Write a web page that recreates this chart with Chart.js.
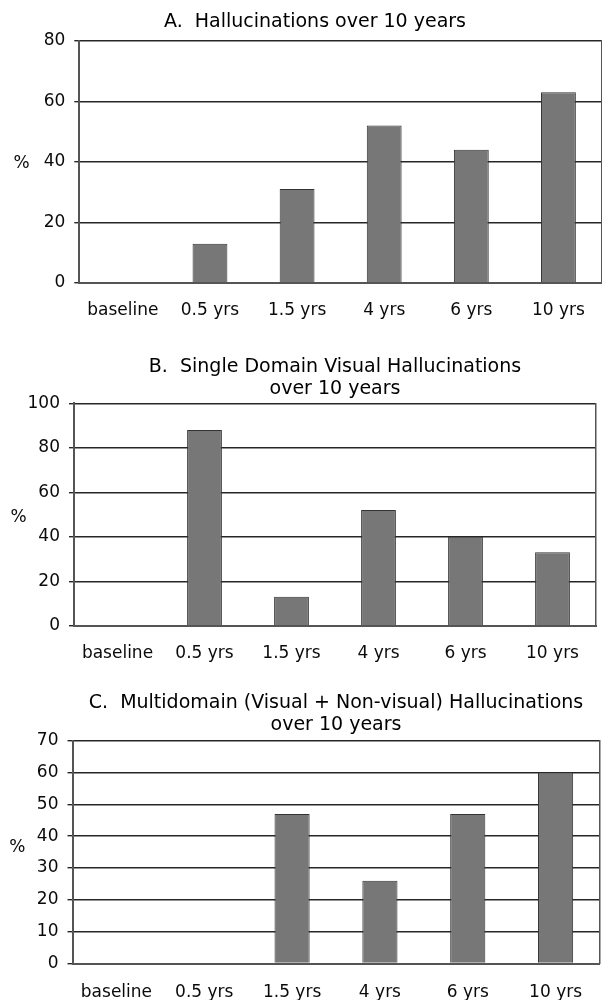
<!DOCTYPE html>
<html>
<head>
<meta charset="utf-8">
<script src="https://cdn.jsdelivr.net/npm/chart.js@4/dist/chart.umd.min.js"></script>
<style>
  html, body { margin: 0; padding: 0; background: #fff; }
  body { width: 602px; height: 1000px; overflow: hidden; position: relative; }
  .panel { position: absolute; left: 0; }
  canvas { display: block; }
</style>
</head>
<body>
<div class="panel" style="top:0px"><canvas id="chartA" width="604" height="330"></canvas></div>
<div class="panel" style="top:330px"><canvas id="chartB" width="602" height="340"></canvas></div>
<div class="panel" style="top:670px"><canvas id="chartC" width="602" height="330"></canvas></div>

<script>
// Follow-up visits
const categories = ['baseline', '0.5 yrs', '1.5 yrs', '4 yrs', '6 yrs', '10 yrs'];

// Percent of patients at each visit
const hallucinationsAll   = [0, 13, 31, 52, 44, 63];
const singleDomainVisual  = [0, 88, 13, 52, 40, 33];
const multidomain         = [0, 0, 47, 26, 47, 60];

// Value-axis ticks per panel
const ticksA = [0, 20, 40, 60, 80];
const ticksB = [0, 20, 40, 60, 80, 100];
const ticksC = [0, 10, 20, 30, 40, 50, 60, 70];

// Panel titles
const titleA = ['A.  Hallucinations over 10 years'];
const titleB = ['B.  Single Domain Visual Hallucinations', 'over 10 years'];
const titleC = ['C.  Multidomain (Visual + Non-visual) Hallucinations', 'over 10 years'];

const FONT = '"DejaVu Sans", "Liberation Sans", Arial, sans-serif';
const INK = '#0a0a0a';

// Horizontal "%" label beside the value axis
const percentLabel = {
  id: 'percentLabel',
  afterDraw(chart, args, opts) {
    const { ctx, chartArea } = chart;
    ctx.save();
    ctx.font = '17px ' + FONT;
    ctx.fillStyle = INK;
    ctx.textAlign = 'center';
    ctx.textBaseline = 'middle';
    ctx.fillText('%', opts.x, (chartArea.top + chartArea.bottom) / 2 + opts.dy);
    ctx.restore();
  }
};

function panel(id, p) {
  return new Chart(document.getElementById(id), {
    type: 'bar',
    data: {
      labels: categories,
      datasets: [{
        data: p.values,
        backgroundColor: '#777777',
        borderColor: '#333333',
        borderWidth: 1,
        categoryPercentage: 1,
        barPercentage: 0.4
      }]
    },
    options: {
      responsive: false,
      animation: false,
      events: [],
      layout: { padding: p.padding },
      plugins: {
        legend: { display: false },
        tooltip: { enabled: false },
        title: {
          display: true,
          text: p.title,
          fullSize: p.fullSizeTitle,
          color: '#000',
          font: { family: FONT, size: 19, weight: 'normal', lineHeight: 1.2 },
          padding: p.titlePadding
        },
        percentLabel: p.percent
      },
      scales: {
        x: {
          grid: { display: false, drawTicks: false, tickLength: 0 },
          border: { display: true, color: '#555', width: 2 },
          ticks: {
            color: INK,
            font: { family: FONT, size: 17, lineHeight: 1.2 },
            padding: p.xPad,
            autoSkip: false,
            maxRotation: 0
          },
          afterFit(s) { s.height = p.xHeight; }
        },
        y: {
          min: p.ticks[0],
          max: p.ticks[p.ticks.length - 1],
          afterBuildTicks(s) { s.ticks = p.ticks.map(v => ({ value: v })); },
          grid: { color: '#262626', lineWidth: 1.4, tickLength: 5, drawTicks: true },
          border: { display: true, color: '#555', width: 2 },
          ticks: {
            color: INK,
            font: { family: FONT, size: 17, lineHeight: 1.2 },
            padding: 9
          },
          afterFit(s) { s.width = p.yWidth; }
        },
        yEdge: {
          position: 'right',
          min: p.ticks[0],
          max: p.ticks[p.ticks.length - 1],
          ticks: { display: false },
          grid: { display: false, drawTicks: false },
          border: { display: true, color: '#555', width: 1.5 },
          afterFit(s) { s.width = 0; }
        }
      }
    },
    plugins: [percentLabel]
  });
}

panel('chartA', {
  values: hallucinationsAll, ticks: ticksA, title: titleA,
  fullSizeTitle: true,
  padding: { left: 28, right: 2, top: 0, bottom: 0 },
  titlePadding: { top: 10.3, bottom: 7.6 },
  yWidth: 51.3, xHeight: 47, xPad: 17,
  percent: { x: 21.7, dy: 2 }
});

panel('chartB', {
  values: singleDomainVisual, ticks: ticksB, title: titleB,
  fullSizeTitle: false,
  padding: { left: 0, right: 6, top: 0, bottom: 0 },
  titlePadding: { top: 25.3, bottom: 2.4 },
  yWidth: 74, xHeight: 44.3, xPad: 18,
  percent: { x: 18.6, dy: 3 }
});

panel('chartC', {
  values: multidomain, ticks: ticksC, title: titleC,
  fullSizeTitle: false,
  padding: { left: 0, right: 2.5, top: 0, bottom: 0 },
  titlePadding: { top: 21.3, bottom: 3.8 },
  yWidth: 72.5, xHeight: 36.5, xPad: 19.3,
  percent: { x: 17.3, dy: -5 }
});
</script>
</body>
</html>
